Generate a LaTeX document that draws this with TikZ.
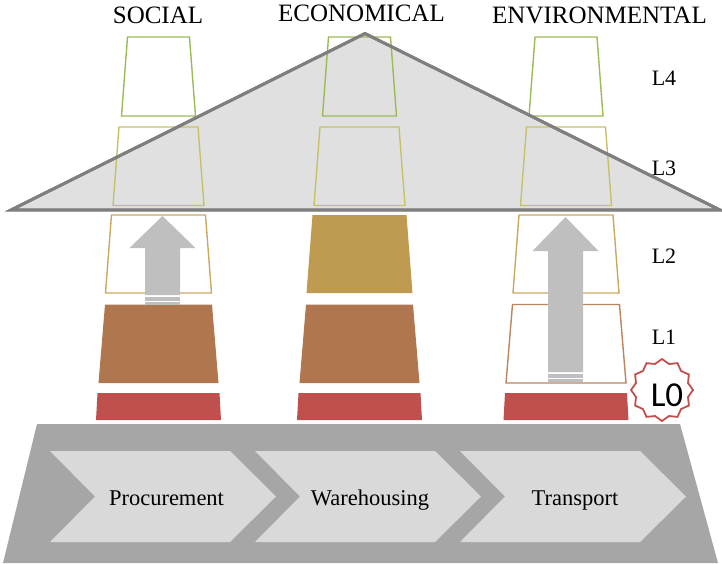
\documentclass[tikz,border=0pt]{standalone}
\usepackage{fontspec}
\setmainfont{Liberation Serif}
\newfontfamily\zerofont{Carlito}
\usepackage{tikz}
\usetikzlibrary{shapes.geometric}
\definecolor{secRed}{HTML}{C0504D}
\definecolor{secBrown}{HTML}{B0774F}
\definecolor{secGold}{HTML}{BF9B52}
\definecolor{lineGreen}{HTML}{9BBB59}
\definecolor{lineOlive}{HTML}{C5C16A}
\definecolor{lineTan}{HTML}{CBA862}
\definecolor{lineBrown}{HTML}{BD845C}
\definecolor{arrowGray}{HTML}{BFBFBF}
\definecolor{baseGray}{HTML}{A6A6A6}
\definecolor{chevGray}{HTML}{D9D9D9}
\definecolor{roofFill}{HTML}{E0E0E0}
\definecolor{roofLine}{HTML}{7F7F7F}

% one tier: style, centre x, top y, bottom y, half top, half bottom
\newcommand\tier[6]{\path[tierline,#1] ({#2-#5},#3) -- ({#2+#5},#3) -- ({#2+#6},#4) -- ({#2-#6},#4) -- cycle;}
% striped up arrow: centre x, tip y, head base y, shaft end y
\newcommand\liftarrow[4]{%
  \fill[arrowGray] (#1,#2) -- ({#1+33},#3) -- ({#1+17.5},#3) -- ({#1+17.5},#4)
    -- ({#1-17.5},#4) -- ({#1-17.5},#3) -- ({#1-33},#3) -- cycle;
  \fill[arrowGray] ({#1-17.5},{#4+1.5}) rectangle ({#1+17.5},{#4+5.5});
  \fill[arrowGray] ({#1-17.5},{#4+7}) rectangle ({#1+17.5},{#4+9.5});}

\tikzset{
  tierline/.style={line width=1.4pt,line join=miter},
  title/.style={font=\fontsize{25}{30}\selectfont},
  lvl/.style={font=\fontsize{22}{26}\selectfont},
  stage/.style={font=\fontsize{22.5}{27}\selectfont,anchor=base},
}

\begin{document}
\begin{tikzpicture}[x=1pt,y=-1pt]
  \useasboundingbox (0,0) rectangle (722,563);
  % process base
  \fill[baseGray] (37,424) -- (680,424) -- (718,563) -- (3,563) -- cycle;
  \foreach \sx in {50,255,460}
    \fill[chevGray] (\sx,451) -- ({\sx+180},451) -- ({\sx+226},496.5) -- ({\sx+180},542)
      -- (\sx,542) -- ({\sx+45},496.5) -- cycle;
  \node[stage] (proc) at (166.5,505) {Procurement};
  \node[stage] (ware) at (370,505) {Warehousing};
  \node[stage] (trans) at (575,505) {Transport};
  % roof fill
  \fill[roofFill] (11,210) -- (365,33.5) -- (720,210) -- cycle;
  % levels
  \foreach \cx in {158.5,359.5,566}{
    \tier{draw=lineGreen}{\cx}{37}{116}{31}{37}
    \tier{draw=lineOlive}{\cx}{127}{205.5}{39.5}{45.5}
  }
  \tier{draw=lineTan}{158.5}{215}{293}{47}{53}
  \tier{fill=secGold}{359.5}{215}{293}{47}{53}
  \tier{draw=lineTan}{566}{215}{293}{47}{53}
  \tier{fill=secBrown}{158.5}{304.5}{383}{53.5}{60}
  \tier{fill=secBrown}{359.5}{304.5}{383}{53.5}{60}
  \tier{draw=lineBrown}{566}{304.5}{383}{53.5}{60}
  \foreach \cx in {158.5,359.5,566}
    \tier{fill=secRed}{\cx}{393}{420}{61}{62.5}
  % roof outline
  \draw[roofLine,line width=2.8pt,line join=miter] (11,210) -- (365,33.5) -- (720,210) -- cycle;
  % arrows
  \liftarrow{162.5}{216}{248}{295}
  \liftarrow{565.5}{217}{251}{372}
  % labels
  \node[title] (soc) at (158,15) {SOCIAL};
  \node[title] (eco) at (361.5,13) {ECONOMICAL};
  \node[title] (env) at (599.5,15) {ENVIRONMENTAL};
  \node[lvl] (l4) at (664,78) {L4};
  \node[lvl] (l3) at (664,168) {L3};
  \node[lvl] (l2) at (664,256) {L2};
  \node[lvl] (l1) at (664,337) {L1};
  \node[star,star points=12,star point ratio=1.15,minimum size=62pt,inner sep=0pt,
    draw=secRed,line width=1.8pt,fill=white] (l0) at (662,390) {};
  \node[font=\zerofont\fontsize{35}{40}\selectfont] (l0txt) at (667,395) {L0};
\end{tikzpicture}
\end{document}
